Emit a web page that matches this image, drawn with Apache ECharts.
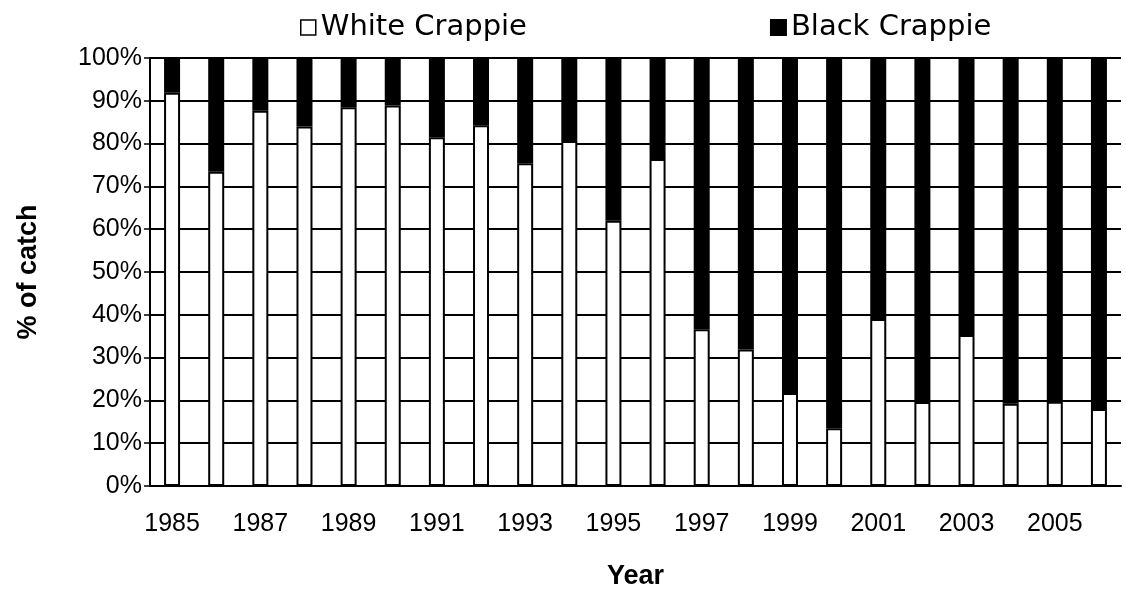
<!doctype html>
<html lang="en">
<head>
    <meta charset="UTF-8">
    <title>White and Black Crappie catch</title>
    <style>
        html, body { margin: 0; padding: 0; background: #fff; }
        #chart { width: 1126px; height: 596px; }
    </style>
</head>
<body>
<div id="chart"></div>
<script src="https://cdn.jsdelivr.net/npm/echarts@6/dist/echarts.min.js"></script>
<script>
    // years on the x axis
    var years = ['1985', '1986', '1987', '1988', '1989', '1990', '1991', '1992', '1993', '1994', '1995',
        '1996', '1997', '1998', '1999', '2000', '2001', '2002', '2003', '2004', '2005', '2006'];
    // % of catch
    var whiteCrappie = [91.9, 73.4, 87.7, 84.0, 88.5, 88.9, 81.5, 84.3, 75.4, 80.6, 62.0,
        76.4, 36.6, 31.9, 21.7, 13.5, 39.0, 19.6, 35.3, 19.2, 19.7, 18.0];
    var blackCrappie = [8.1, 26.6, 12.3, 16.0, 11.5, 11.1, 18.5, 15.7, 24.6, 19.4, 38.0,
        23.6, 63.4, 68.1, 78.3, 86.5, 61.0, 80.4, 64.7, 80.8, 80.3, 82.0];

    var labelFont = 'Liberation Sans, Arial, sans-serif';
    var myChart = echarts.init(document.getElementById('chart'));
    myChart.setOption({
        animation: false,
        backgroundColor: '#fff',
        legend: {
            left: 295,
            top: 8,
            itemGap: 243,
            itemWidth: 15,
            itemHeight: 15,
            icon: 'rect',
            textStyle: {fontFamily: 'DejaVu Sans', fontSize: 29, color: '#000'},
            data: [
                {name: 'White Crappie', itemStyle: {color: '#fff', borderColor: '#000', borderWidth: 1.5}},
                {name: 'Black Crappie', itemStyle: {color: '#000'}}
            ]
        },
        grid: {
            left: 150,
            right: 5,
            top: 58,
            bottom: 110,
            outerBoundsMode: 'none'
        },
        xAxis: {
            type: 'category',
            data: years,
            name: 'Year',
            nameLocation: 'middle',
            nameGap: 77,
            nameTextStyle: {fontFamily: labelFont, fontSize: 27, fontWeight: 'bold', color: '#000'},
            axisLine: {lineStyle: {color: '#000', width: 2}},
            axisTick: {interval: 0, length: 6, lineStyle: {color: '#000', width: 1.5}},
            axisLabel: {interval: 1, margin: 26, fontFamily: labelFont, fontSize: 25, color: '#000'}
        },
        yAxis: [
            {
                type: 'value',
                min: 0,
                max: 100,
                interval: 10,
                name: '% of catch',
                nameLocation: 'middle',
                nameRotate: 90,
                nameGap: 108,
                nameTextStyle: {fontFamily: labelFont, fontSize: 27, fontWeight: 'bold', color: '#000'},
                axisLine: {show: true, lineStyle: {color: '#000', width: 2}},
                axisTick: {show: true, length: 6, lineStyle: {color: '#000', width: 1.5}},
                axisLabel: {formatter: '{value}%', margin: 8, fontFamily: labelFont, fontSize: 25, color: '#000'},
                splitLine: {lineStyle: {color: '#000', width: 2}}
            },
            {
                // inner half of the crossing ticks
                type: 'value',
                position: 'left',
                min: 0,
                max: 100,
                interval: 10,
                axisLine: {show: false},
                axisTick: {show: true, inside: true, length: 4, lineStyle: {color: '#000', width: 1.5}},
                axisLabel: {show: false},
                splitLine: {show: false}
            }
        ],
        series: [
            {
                name: 'White Crappie',
                type: 'bar',
                stack: 'catch',
                barWidth: 16,
                itemStyle: {color: '#fff', borderColor: '#000', borderWidth: 2},
                data: whiteCrappie
            },
            {
                name: 'Black Crappie',
                type: 'bar',
                stack: 'catch',
                barWidth: 16,
                itemStyle: {color: '#000', borderColor: '#000', borderWidth: 2},
                data: blackCrappie
            }
        ]
    });
</script>
</body>
</html>
